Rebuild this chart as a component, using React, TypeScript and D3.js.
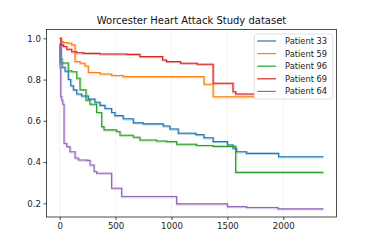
import { useEffect, useRef } from "react"
import * as d3 from "d3"

const patientNames = ["Patient 33", "Patient 59", "Patient 96", "Patient 69", "Patient 64"]
const colors = ["#1f77b4", "#ff7f0e", "#2ca02c", "#d62728", "#9467bd"]

const times33 = [0, 12, 21, 48, 77, 98, 122, 152, 196, 256, 315, 360, 405, 464, 494, 568, 658, 747, 926, 985, 1060, 1217, 1289, 1372, 1500, 1550, 1580, 1670, 1958, 2358]
const surv33 = [0.975, 0.9, 0.86, 0.84, 0.8, 0.77, 0.75, 0.73, 0.72, 0.705, 0.69, 0.675, 0.66, 0.64, 0.625, 0.61, 0.59, 0.585, 0.575, 0.56, 0.54, 0.533, 0.518, 0.499, 0.483, 0.467, 0.45, 0.442, 0.426, 0.426]

const times59 = [0, 12, 33, 77, 107, 137, 182, 226, 256, 360, 464, 568, 1290, 1372, 2000]
const surv59 = [1.0, 0.984, 0.979, 0.976, 0.968, 0.887, 0.879, 0.866, 0.834, 0.827, 0.82, 0.814, 0.777, 0.717, 0.717]

const times96 = [0, 3, 77, 107, 152, 182, 235, 271, 330, 375, 396, 509, 539, 658, 717, 866, 955, 1045, 1223, 1372, 1574, 2358]
const surv96 = [0.97, 0.88, 0.843, 0.838, 0.806, 0.75, 0.7, 0.68, 0.64, 0.572, 0.556, 0.548, 0.53, 0.52, 0.507, 0.502, 0.499, 0.486, 0.48, 0.476, 0.35, 0.35]

const times69 = [0, 12, 33, 63, 107, 152, 211, 360, 598, 717, 920, 955, 1080, 1230, 1372, 1550, 1574, 2000]
const surv69 = [1.0, 0.968, 0.96, 0.947, 0.935, 0.93, 0.927, 0.924, 0.922, 0.911, 0.895, 0.887, 0.879, 0.874, 0.782, 0.741, 0.73, 0.73]

const times64 = [0, 3, 9, 18, 27, 39, 63, 92, 137, 167, 241, 271, 307, 330, 464, 554, 1045, 1500, 1670, 1952, 2358]
const surv64 = [0.97, 0.86, 0.717, 0.7, 0.68, 0.49, 0.475, 0.45, 0.42, 0.41, 0.408, 0.386, 0.354, 0.346, 0.273, 0.233, 0.197, 0.184, 0.18, 0.173, 0.173]

const allTimes = [times33, times59, times96, times69, times64]
const allSurv = [surv33, surv59, surv96, surv69, surv64]

const xTicks = [0, 500, 1000, 1500, 2000]
const yTicks = [0.2, 0.4, 0.6, 0.8, 1.0]

const W = 374
const H = 249
const margin = { left: 46.5, right: 37.5, top: 29.5, bottom: 32 }

const App = () => {
  const ref = useRef<SVGSVGElement>(null)

  useEffect(() => {
    if (!ref.current) return
    const svg = d3.select(ref.current)
    svg.selectAll("*").remove()

    const x = d3
      .scaleLinear()
      .domain([-117.9, 2475.9])
      .range([margin.left, W - margin.right])
    const y = d3
      .scaleLinear()
      .domain([0.1336, 1.0427])
      .range([H - margin.bottom, margin.top])

    const font = "DejaVu Sans, sans-serif"

    // vertical grid
    svg
      .append("g")
      .selectAll("line")
      .data(xTicks)
      .join("line")
      .attr("x1", (d) => x(d))
      .attr("x2", (d) => x(d))
      .attr("y1", margin.top)
      .attr("y2", H - margin.bottom)
      .attr("stroke", "#b0b0b0")
      .attr("stroke-opacity", 0.2)
      .attr("stroke-width", 0.8)

    const line = d3
      .line<[number, number]>()
      .x((d) => x(d[0]))
      .y((d) => y(d[1]))
      .curve(d3.curveStepAfter)

    allTimes.forEach((ts, i) => {
      const pts: [number, number][] = ts.map((t, j) => [t, allSurv[i][j]])
      svg
        .append("path")
        .attr("d", line(pts))
        .attr("fill", "none")
        .attr("stroke", colors[i])
        .attr("stroke-opacity", 0.3)
        .attr("stroke-width", 2.4)
        .attr("transform", "translate(0.4,0.5)")
      svg
        .append("path")
        .attr("d", line(pts))
        .attr("fill", "none")
        .attr("stroke", colors[i])
        .attr("stroke-width", 1.1)
    })

    // spines
    svg
      .append("rect")
      .attr("x", margin.left)
      .attr("y", margin.top)
      .attr("width", W - margin.left - margin.right)
      .attr("height", H - margin.top - margin.bottom)
      .attr("fill", "none")
      .attr("stroke", "#222")
      .attr("stroke-width", 0.8)

    const xAxis = svg
      .append("g")
      .attr("transform", `translate(0,${H - margin.bottom})`)
      .call(d3.axisBottom(x).tickValues(xTicks).tickSize(3).tickPadding(2.5).tickFormat(d3.format("d")))
    xAxis.select(".domain").remove()

    const yAxis = svg
      .append("g")
      .attr("transform", `translate(${margin.left},0)`)
      .call(d3.axisLeft(y).tickValues(yTicks).tickSize(3).tickPadding(2.5).tickFormat(d3.format(".1f")))
    yAxis.select(".domain").remove()

    svg.selectAll(".tick text").attr("font-family", font).attr("font-size", 8.6).attr("fill", "#222")
    svg.selectAll(".tick line").attr("stroke", "#222").attr("stroke-width", 0.8)

    svg
      .append("text")
      .attr("x", (margin.left + W - margin.right) / 2)
      .attr("y", 24)
      .attr("text-anchor", "middle")
      .attr("font-family", font)
      .attr("font-size", 10)
      .attr("fill", "#111")
      .text("Worcester Heart Attack Study dataset")

    // legend
    const lg = svg.append("g")
    lg.append("rect")
      .attr("x", 254.3)
      .attr("y", 34)
      .attr("width", 78.4)
      .attr("height", 65)
      .attr("rx", 2)
      .attr("fill", "white")
      .attr("fill-opacity", 0.95)
      .attr("stroke", "#d8d8d8")
      .attr("stroke-width", 0.8)
    patientNames.forEach((name, i) => {
      const ly = 41 + i * 12.6
      lg.append("line")
        .attr("x1", 257.3)
        .attr("x2", 276)
        .attr("y1", ly)
        .attr("y2", ly)
        .attr("stroke", colors[i])
        .attr("stroke-width", 1.2)
      lg.append("text")
        .attr("x", 285)
        .attr("y", ly)
        .attr("dy", "0.35em")
        .attr("font-family", font)
        .attr("font-size", 8.3)
        .attr("fill", "#222")
        .text(name)
    })
  }, [])

  return (
    <svg
      ref={ref}
      width={W}
      height={H}
      style={{ position: "absolute", left: 0, top: 0, background: "white" }}
    />
  )
}

export default App
